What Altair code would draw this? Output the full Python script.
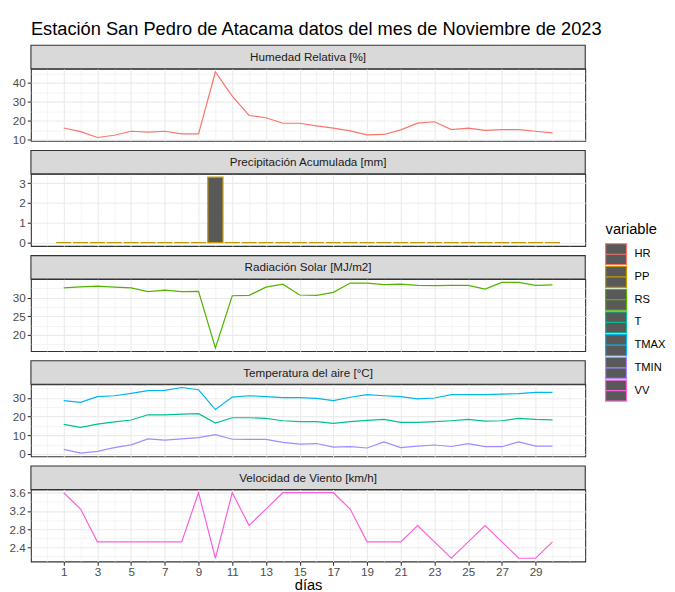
import altair as alt
import pandas as pd

dias = list(range(1, 31))
HR = [16.2, 14.3, 11.2, 12.4, 14.5, 14.0, 14.5, 13.1, 13.1, 45.7,
      33.0, 22.8, 21.6, 18.7, 18.7, 17.3, 16.1, 14.7, 12.6, 12.8,
      15.2, 18.8, 19.5, 15.4, 16.1, 15.0, 15.4, 15.4, 14.5, 13.6]
PP = [0, 0, 0, 0, 0, 0, 0, 0, 0, 3.3,
      0, 0, 0, 0, 0, 0, 0, 0, 0, 0,
      0, 0, 0, 0, 0, 0, 0, 0, 0, 0]
RS = [32.6, 32.9, 33.1, 32.8, 32.6, 31.6, 32.0, 31.6, 31.7, 16.5,
      30.5, 30.6, 32.8, 33.6, 30.7, 30.6, 31.4, 33.9, 33.9, 33.5,
      33.6, 33.3, 33.2, 33.3, 33.3, 32.3, 34.1, 34.1, 33.3, 33.4]
TMAX = [28.6, 27.7, 30.7, 31.2, 32.5, 33.9, 34.1, 35.6, 34.4, 23.8,
        30.5, 31.2, 30.7, 30.2, 30.2, 29.8, 28.6, 30.4, 31.8, 31.2,
        30.7, 29.5, 30.0, 31.8, 31.8, 31.8, 32.1, 32.3, 33.0, 33.0]
T = [15.9, 14.3, 16.0, 17.2, 18.2, 21.0, 21.0, 21.4, 21.6, 16.6,
     19.4, 19.4, 19.1, 17.8, 17.3, 17.3, 16.4, 17.3, 18.0, 18.5,
     16.9, 16.9, 17.3, 17.8, 18.5, 17.6, 17.8, 19.1, 18.5, 18.3]
TMIN = [2.5, 0.5, 1.4, 3.4, 4.9, 8.1, 7.4, 8.1, 8.8, 10.4,
        7.9, 7.8, 7.8, 6.2, 5.3, 5.6, 3.7, 3.9, 3.2, 6.5,
        3.4, 4.2, 4.8, 4.0, 5.5, 3.9, 3.9, 6.5, 4.2, 4.2]
VV = [3.6, 3.24, 2.52, 2.52, 2.52, 2.52, 2.52, 2.52, 3.6, 2.16,
      3.6, 2.88, 3.24, 3.6, 3.6, 3.6, 3.6, 3.24, 2.52, 2.52,
      2.52, 2.88, 2.52, 2.16, 2.52, 2.88, 2.52, 2.16, 2.16, 2.52]

variables = ["HR", "PP", "RS", "T", "TMAX", "TMIN", "VV"]
colores = ["#F8766D", "#C49A00", "#53B400", "#00C094", "#00B6EB", "#A58AFF", "#FB61D7"]

titulo = "Estación San Pedro de Atacama datos del mes de Noviembre de 2023"
leyenda_titulo = "variable"
paneles = [
    ("Humedad Relativa [%]", ["HR"]),
    ("Precipitación Acumulada [mm]", ["PP"]),
    ("Radiación Solar [MJ/m2]", ["RS"]),
    ("Temperatura del aire [°C]", ["T", "TMAX", "TMIN"]),
    ("Velocidad de Viento [km/h]", ["VV"]),
]
y_major = {
    "HR": [10, 20, 30, 40],
    "PP": [0, 1, 2, 3],
    "RS": [20, 25, 30, 35],
    "T": [0, 10, 20, 30],
    "VV": [2.4, 2.8, 3.2, 3.6],
}
y_minor = {
    "HR": [15, 25, 35, 45],
    "PP": [0.5, 1.5, 2.5],
    "RS": [17.5, 22.5, 27.5, 32.5],
    "T": [5, 15, 25, 35],
    "VV": [2.2, 2.6, 3.0, 3.4],
}
y_format = {"HR": "d", "PP": "d", "RS": "d", "T": "d", "VV": ".1f"}
x_major = list(range(1, 30, 2))
x_minor = list(range(0, 32))

series = {"HR": HR, "PP": PP, "RS": RS, "T": T, "TMAX": TMAX, "TMIN": TMIN, "VV": VV}
rows = []
for v in variables:
    for d, val in zip(dias, series[v]):
        rows.append({"dia": d, "variable": v, "valor": val})
df = pd.DataFrame(rows)

FONT = "Liberation Sans"
W = 556
H = 72.3
SH = 23.5
GAP = 9
KEY = 22.8          # legend row pitch
KEY_SIDE = 21       # legend key size

xlo, xhi = 1 - 0.45, 30 + 0.45
xr = xhi - xlo
x_dom = [xlo - 0.05 * xr, xhi + 0.05 * xr]

stroke_scale = alt.Scale(domain=variables, range=colores)


def stroke_enc():
    return alt.Stroke("variable:N", scale=stroke_scale, legend=None)


def major_test(vals):
    return "(" + " || ".join("abs(datum.value - %s) < 1e-6" % v for v in vals) + ")"


def x_axis(show):
    t = major_test(x_major)
    kw = dict(
        values=x_minor, grid=True, gridColor="#EBEBEB",
        gridWidth={"condition": {"test": t, "value": 1.1}, "value": 0.55},
        domain=False, labels=show, ticks=show,
        tickColor="#333333", tickSize=3.7, tickWidth=1.07,
        tickOpacity={"condition": {"test": t, "value": 1}, "value": 0},
        labelExpr=t + " ? datum.label : ''",
        labelFont=FONT, labelFontSize=11.7, labelColor="#4D4D4D", labelPadding=1,
        titleFont=FONT, titleFontSize=14.7, titleFontWeight="normal", titleColor="#000000",
        titlePadding=0,
    )
    return alt.Axis(**kw)


def y_axis(key):
    major = y_major[key]
    vals = sorted(major + y_minor[key])
    t = major_test(major)
    return alt.Axis(
        values=vals, grid=True, gridColor="#EBEBEB",
        gridWidth={"condition": {"test": t, "value": 1.1}, "value": 0.55},
        domain=False, tickColor="#333333", tickSize=3.7, tickWidth=1.07,
        tickOpacity={"condition": {"test": t, "value": 1}, "value": 0},
        labelExpr=t + " ? datum.label : ''", format=y_format[key],
        labelFont=FONT, labelFontSize=11.7, labelColor="#4D4D4D", labelPadding=2,
    )


def legend_layers():
    ldf = pd.DataFrame({"variable": variables})
    yoff = alt.YOffset(
        "variable:N",
        scale=alt.Scale(type="point", domain=variables,
                        range=[0, KEY * (len(variables) - 1)], padding=0),
    )
    y0 = -24.9
    keys = alt.Chart(ldf).mark_point(
        shape="M-1,-1H1V1H-1Z M-1,0H1", filled=True, fill="#595959",
        fillOpacity=1, opacity=1, size=KEY_SIDE ** 2, strokeWidth=1.2,
    ).encode(
        x=alt.value(576.4 + KEY_SIDE / 2), y=alt.value(y0), yOffset=yoff,
        stroke=stroke_enc(),
    )
    labels = alt.Chart(ldf).mark_text(
        font=FONT, fontSize=11.2, color="#000000", align="left", baseline="middle"
    ).encode(
        x=alt.value(605.4), y=alt.value(y0), yOffset=yoff, text="variable:N"
    )
    ttl = alt.Chart(pd.DataFrame({"t": [leyenda_titulo]})).mark_text(
        font=FONT, fontSize=14.7, color="#000000", align="left", baseline="middle"
    ).encode(x=alt.value(576.4), y=alt.value(-49.7), text="t:N")
    return [keys, labels, ttl]


paneles_ch = []
n = len(paneles)
for i, (nombre, vars_) in enumerate(paneles):
    key = vars_[0] if len(vars_) == 1 else "T"
    last = i == n - 1
    sub = df[df["variable"].isin(vars_)]
    lo = min(sub["valor"].min(), 0) if key == "PP" else sub["valor"].min()
    hi = sub["valor"].max()
    r = hi - lo
    y_dom = [lo - 0.05 * r, hi + 0.05 * r]
    xscale = alt.Scale(domain=x_dom, nice=False, zero=False)
    yenc = alt.Y("valor:Q", scale=alt.Scale(domain=y_dom, nice=False, zero=False),
                 axis=y_axis(key), title=None)
    base = alt.Chart(sub)
    if key == "PP":
        mark = base.transform_calculate(
            x0="datum.dia - 0.45", x1="datum.dia + 0.45"
        ).mark_bar(fill="#595959", strokeWidth=1.2).encode(
            x=alt.X("x0:Q", scale=xscale, axis=x_axis(last), title=None),
            x2="x1:Q",
            y=yenc,
            y2=alt.datum(0),
            stroke=stroke_enc(),
        )
    else:
        mark = base.mark_line(strokeWidth=1.2).encode(
            x=alt.X("dia:Q", scale=xscale, axis=x_axis(last),
                    title="días" if last else None),
            y=yenc, stroke=stroke_enc(), detail="variable:N"
        )
    strip_df = pd.DataFrame({"label": [nombre]})
    strip_box = alt.Chart(strip_df).mark_rect(
        fill="#D9D9D9", stroke="#333333", strokeWidth=1.1
    ).encode(
        x=alt.value(0), x2=alt.value(W), y=alt.value(-SH), y2=alt.value(0)
    )
    strip_txt = alt.Chart(strip_df).mark_text(
        font=FONT, fontSize=11.7, color="#1A1A1A", baseline="middle", align="center"
    ).encode(
        text="label:N", x=alt.value(W / 2), y=alt.value(-SH / 2)
    )
    capas = [mark, strip_box, strip_txt]
    if i == 0:
        titulo_txt = alt.Chart(pd.DataFrame({"t": [titulo]})).mark_text(
            font=FONT, fontSize=18.3, color="#000000", baseline="alphabetic", align="left"
        ).encode(text="t:N", x=alt.value(0), y=alt.value(-33.5))
        capas.append(titulo_txt)
    if i == 2:
        capas.extend(legend_layers())
    paneles_ch.append(alt.layer(*capas).properties(width=W, height=H))

chart = alt.vconcat(*paneles_ch, spacing=GAP + SH, bounds="flush").properties(
    padding={"left": 0, "top": 10, "right": 0, "bottom": 0},
).configure_view(
    stroke="#333333", strokeWidth=1.1
)

chart.save("out.html", embed_options={"renderer": "svg", "actions": False})
